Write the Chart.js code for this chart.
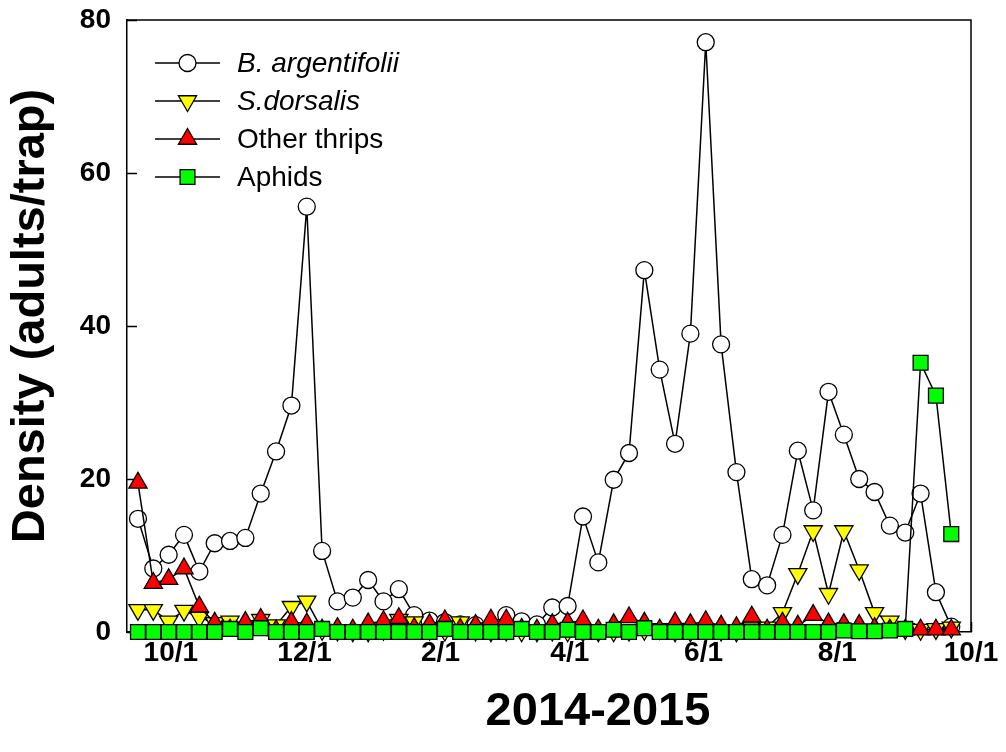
<!DOCTYPE html>
<html>
<head>
<meta charset="utf-8">
<script src="https://cdn.jsdelivr.net/npm/chart.js@4.4.1/dist/chart.umd.min.js"></script>
<style>
  html, body { margin: 0; padding: 0; background: #fff; }
  canvas { display: block; }
</style>
</head>
<body>
<canvas id="chart" width="1006" height="752"></canvas>
<script>
// weekly trap samples, Sep 2014 - Sep 2015
const sampleDates = [
  '2014-09-16', '2014-09-23', '2014-09-30', '2014-10-07', '2014-10-14', '2014-10-21', '2014-10-28',
  '2014-11-04', '2014-11-11', '2014-11-18', '2014-11-25', '2014-12-02', '2014-12-09', '2014-12-16',
  '2014-12-23', '2014-12-30', '2015-01-06', '2015-01-13', '2015-01-20', '2015-01-27', '2015-02-03',
  '2015-02-10', '2015-02-17', '2015-02-24', '2015-03-03', '2015-03-10', '2015-03-17', '2015-03-24',
  '2015-03-31', '2015-04-07', '2015-04-14', '2015-04-21', '2015-04-28', '2015-05-05', '2015-05-12',
  '2015-05-19', '2015-05-26', '2015-06-02', '2015-06-09', '2015-06-16', '2015-06-23', '2015-06-30',
  '2015-07-07', '2015-07-14', '2015-07-21', '2015-07-28', '2015-08-04', '2015-08-11', '2015-08-18',
  '2015-08-25', '2015-09-01', '2015-09-08', '2015-09-15', '2015-09-22'
];

const bemisia = [
  14.8, 8.3, 10.1, 12.7, 7.9, 11.6, 11.9, 12.3, 18.1, 23.6, 29.6, 55.6, 10.6, 4.0,
  4.5, 6.8, 4.0, 5.6, 2.2, 1.5, 1.3, 1.0, 0.9, 0.6, 2.2, 1.4, 1.0, 3.2,
  3.4, 15.1, 9.1, 19.9, 23.4, 47.3, 34.3, 24.6, 39.0, 77.1, 37.6, 20.9, 6.9, 6.1,
  12.7, 23.7, 15.9, 31.4, 25.8, 20.0, 18.3, 13.9, 13.0, 18.1, 5.2, 0.7
];

const scirtothrips = [
  2.9, 2.9, 1.4, 2.8, 1.9, 1.2, 1.4, 0.6, 1.6, 0.9, 3.3, 4.0, 0.3, 0.2,
  0.1, 0.1, 0.3, 1.6, 1.3, 0.3, 0.2, 1.3, 0.2, 0.1, 0.2, 0.1, 0.1, 0.2,
  0.1, 0.1, 0.1, 0.1, 0.2, 0.3, 0.4, 0.1, 0.1, 0.1, 0.2, 0.1, 0.5, 0.6,
  2.5, 7.6, 13.2, 5.0, 13.2, 8.1, 2.5, 1.4, 0.4, 0.3, 0.4, 0.6
];

const otherThrips = [
  19.5, 6.4, 6.9, 8.3, 3.3, 1.2, 0.3, 1.3, 1.7, 0.2, 1.3, 1.1, 0.3, 0.5,
  0.3, 1.1, 1.4, 1.8, 0.5, 1.0, 1.5, 0.4, 0.9, 1.6, 1.6, 0.4, 0.3, 1.0,
  1.2, 1.5, 0.3, 1.0, 1.9, 1.2, 0.3, 1.2, 1.0, 1.4, 0.8, 0.6, 2.0, 0.3,
  1.2, 0.8, 2.2, 1.1, 1.0, 0.9, 0.5, 0.3, 0.3, 0.3, 0.3, 0.3
];

const aphids = [
  0, 0, 0, 0, 0, 0, 0.4, 0, 0.5, 0, 0, 0, 0.4, 0,
  0, 0, 0, 0, 0, 0, 0.4, 0, 0, 0, 0, 0.4, 0, 0,
  0.3, 0, 0, 0.3, 0, 0.5, 0, 0, 0, 0, 0, 0, 0, 0,
  0, 0, 0, 0, 0.2, 0.1, 0.1, 0.2, 0.4, 35.2, 30.9, 12.8
];

const seriesNames = ['B. argentifolii', 'S.dorsalis', 'Other thrips', 'Aphids'];
const tickDates = ['2014-10-01', '2014-12-01', '2015-02-01', '2015-04-01', '2015-06-01', '2015-08-01', '2015-10-01'];
const tickLabels = ['10/1', '12/1', '2/1', '4/1', '6/1', '8/1', '10/1'];
const yTicks = [0, 20, 40, 60, 80];
const xStart = '2014-09-11';
const xEnd = '2015-10-01';
const xTitle = '2014-2015';
const yTitle = 'Density (adults/trap)';

const FONT = '"Liberation Sans", Arial, sans-serif';

function dayNum(s) {
  const p = s.split('-').map(Number);
  return Date.UTC(p[0], p[1] - 1, p[2]) / 86400000;
}
const tickDays = tickDates.map(dayNum);

function points(values) {
  return values.map((v, i) => ({ x: dayNum(sampleDates[i]), y: v }));
}

const markerStyles = [
  { shape: 'circle', fill: '#ffffff', radius: 8.5, rotation: 0 },
  { shape: 'triangle', fill: '#ffff00', radius: 10.5, rotation: 180 },
  { shape: 'triangle', fill: '#ff0000', radius: 10.5, rotation: 0 },
  { shape: 'rect', fill: '#00ff00', radius: 10.5, rotation: 0 }
];

function makeDataset(label, values, m, order) {
  return {
    label: label,
    data: points(values),
    borderColor: '#000',
    borderWidth: 1.5,
    tension: 0,
    pointStyle: m.shape,
    pointRotation: m.rotation,
    pointRadius: m.radius,
    pointBackgroundColor: m.fill,
    pointBorderColor: '#000',
    pointBorderWidth: 1.3,
    clip: false,
    order: order
  };
}

function drawMarker(ctx, m, x, y) {
  ctx.save();
  ctx.fillStyle = m.fill;
  ctx.strokeStyle = '#000';
  ctx.lineWidth = 1.3;
  ctx.beginPath();
  if (m.shape === 'circle') {
    ctx.arc(x, y, m.radius, 0, Math.PI * 2);
  } else if (m.shape === 'rect') {
    const h = m.radius * Math.SQRT1_2;
    ctx.rect(x - h, y - h, 2 * h, 2 * h);
  } else {
    let rad = m.rotation * Math.PI / 180;
    for (let k = 0; k < 3; k++) {
      const px = x + Math.sin(rad) * m.radius;
      const py = y - Math.cos(rad) * m.radius;
      if (k === 0) ctx.moveTo(px, py); else ctx.lineTo(px, py);
      rad += 2 * Math.PI / 3;
    }
    ctx.closePath();
  }
  ctx.fill();
  ctx.stroke();
  ctx.restore();
}

// inward tick marks, drawn under the data
const innerTicks = {
  id: 'innerTicks',
  beforeDatasetsDraw(chart) {
    const ctx = chart.ctx;
    const a = chart.chartArea;
    const xs = chart.scales.x, ys = chart.scales.y;
    ctx.save();
    ctx.strokeStyle = '#000';
    ctx.lineWidth = 1.5;
    ctx.beginPath();
    yTicks.forEach(v => {
      const py = Math.round(ys.getPixelForValue(v)) + 0.5;
      ctx.moveTo(a.left, py);
      ctx.lineTo(a.left + 10, py);
    });
    tickDays.forEach(v => {
      const px = Math.round(xs.getPixelForValue(v)) + 0.5;
      ctx.moveTo(px, a.bottom);
      ctx.lineTo(px, a.bottom - 10);
    });
    ctx.stroke();
    ctx.restore();
  }
};

const frameAndText = {
  id: 'frameAndText',
  afterDraw(chart) {
    const ctx = chart.ctx;
    const a = chart.chartArea;
    ctx.save();
    // top and right frame
    ctx.strokeStyle = '#000';
    ctx.lineWidth = 1.5;
    ctx.beginPath();
    ctx.moveTo(a.left, a.top);
    ctx.lineTo(a.right, a.top);
    ctx.lineTo(a.right, a.bottom);
    ctx.stroke();

    // legend
    const rowY = [63, 101, 139, 177];
    seriesNames.forEach((name, i) => {
      const y = rowY[i];
      ctx.strokeStyle = '#000';
      ctx.lineWidth = 1.5;
      ctx.beginPath();
      ctx.moveTo(155, y);
      ctx.lineTo(220, y);
      ctx.stroke();
      drawMarker(ctx, markerStyles[i], 187.5, y);
      ctx.fillStyle = '#000';
      ctx.textAlign = 'left';
      ctx.textBaseline = 'middle';
      ctx.font = (i < 2 ? 'italic ' : '') + '28px ' + FONT;
      ctx.fillText(name, 237, y + 1);
    });

    // axis titles
    ctx.fillStyle = '#000';
    ctx.textAlign = 'center';
    ctx.textBaseline = 'middle';
    ctx.font = 'bold 47px ' + FONT;
    ctx.fillText(xTitle, 598, 712);
    ctx.translate(31, 316);
    ctx.rotate(-Math.PI / 2);
    ctx.fillText(yTitle, 0, 0);
    ctx.restore();
  }
};

new Chart(document.getElementById('chart').getContext('2d'), {
  type: 'line',
  data: {
    datasets: [
      makeDataset(seriesNames[0], bemisia, markerStyles[0], 4),
      makeDataset(seriesNames[1], scirtothrips, markerStyles[1], 3),
      makeDataset(seriesNames[2], otherThrips, markerStyles[2], 2),
      makeDataset(seriesNames[3], aphids, markerStyles[3], 1)
    ]
  },
  options: {
    responsive: false,
    animation: false,
    events: [],
    layout: { padding: { top: 20, right: 35, left: 0, bottom: 0 } },
    plugins: { legend: { display: false }, tooltip: { enabled: false } },
    scales: {
      x: {
        type: 'linear',
        min: dayNum(xStart),
        max: dayNum(xEnd),
        afterFit: s => { s.height = 120; s.paddingLeft = 0; s.paddingRight = 0; },
        afterBuildTicks: s => { s.ticks = tickDays.map(v => ({ value: v })); },
        ticks: {
          autoSkip: false,
          maxRotation: 0,
          padding: 4,
          color: '#000',
          font: { family: FONT, size: 28, weight: 'bold' },
          callback: (v, i) => tickLabels[i]
        },
        grid: { display: false, drawTicks: false },
        border: { display: true, color: '#000', width: 1.5 }
      },
      y: {
        min: 0,
        max: 80,
        afterFit: s => { s.width = 127; s.paddingTop = 0; s.paddingBottom = 0; },
        afterBuildTicks: s => { s.ticks = yTicks.map(v => ({ value: v })); },
        ticks: {
          padding: 16,
          color: '#000',
          font: { family: FONT, size: 28, weight: 'bold' }
        },
        grid: { display: false, drawTicks: false },
        border: { display: true, color: '#000', width: 1.5 }
      }
    }
  },
  plugins: [innerTicks, frameAndText]
});
</script>
</body>
</html>
